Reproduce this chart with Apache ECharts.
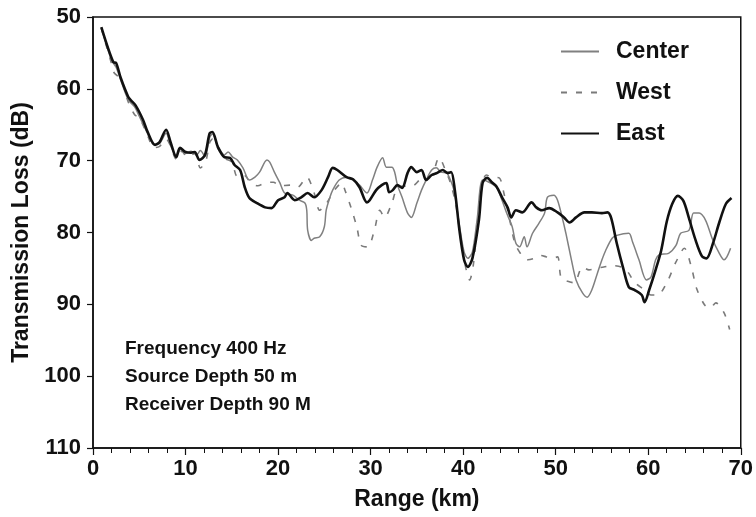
<!DOCTYPE html>
<html>
<head>
<meta charset="utf-8">
<script src="https://cdn.jsdelivr.net/npm/echarts@6/dist/echarts.min.js"></script>
<style>html,body{margin:0;padding:0;background:#fff}#c{width:756px;height:517px}</style>
</head>
<body>
<div id="c"></div>
<script>
// ---- data: [range km, transmission loss dB] ----
const seriesNames = ["Center", "West", "East"];
const xTicks = [0, 10, 20, 30, 40, 50, 60, 70];
const yTicks = [50, 60, 70, 80, 90, 100, 110];
const annotationLines = ["Frequency 400 Hz", "Source Depth 50 m", "Receiver Depth 90 M"];

const centerData = [[0.9,51.5],[2,56],[2.5,57],[3,58.8],[3.8,61.5],[4.5,62.5],[5,63.8],[5.9,66.2],[6.6,67.8],[7.2,67.6],[7.9,66.2],[8.4,67.9],[9,69.3],[9.5,68.4],[10,69],[10.6,68.7],[11.2,69.2],[11.6,68.6],[12.1,69.4],[12.6,66.8],[12.9,66.3],[13.5,68],[14.2,69.2],[14.6,68.8],[15.1,69.5],[15.6,69.9],[16.2,71],[16.9,72.7],[17.5,72.3],[18,71.6],[18.8,69.9],[19.1,70.2],[19.6,71.6],[20.2,73.1],[20.7,74.5],[21.6,74.8],[22.3,75.5],[22.9,75.9],[23.1,76.9],[23.2,79.7],[23.6,81.1],[23.9,80.8],[24.5,80.6],[25,79.2],[25.2,76.9],[25.6,75.1],[25.9,74.1],[26.6,72.7],[27.4,72.3],[28.2,72.8],[28.8,73.4],[29.6,74.5],[30.2,72.7],[30.7,70.9],[31.3,69.6],[31.7,70.9],[32.3,70.9],[32.6,71.6],[32.9,73.4],[33.4,75.1],[34,77.3],[34.4,77.9],[35,75.9],[35.5,74.1],[36,72.7],[36.6,71.3],[37.1,71],[37.6,71.6],[38.2,71.7],[38.5,72.3],[39,74.1],[39.6,79],[40.1,82.7],[40.5,83.6],[41,82.7],[41.5,78.3],[42.1,72.7],[42.8,73],[43.6,73.7],[44.2,75.5],[44.7,77.3],[45.3,79.2],[45.7,81.5],[46.1,82],[46.6,80.6],[46.9,82],[47.5,80.1],[48.2,78.7],[48.8,77.3],[49.1,75.1],[49.8,74.8],[50.2,75.5],[50.7,77.9],[51.1,80.1],[51.7,83.8],[52.2,86.6],[52.9,88.4],[53.4,89],[53.9,88],[54.5,85.7],[55,83.8],[55.4,82.5],[56.1,80.8],[56.6,80.4],[57.9,80.1],[58.3,81.3],[59,83.8],[59.8,86.6],[60.3,86.2],[60.8,83.8],[61.2,83.1],[62.2,82.9],[63,81.8],[63.5,80.1],[64.4,79.7],[64.9,77.3],[65.5,77.3],[66.2,78.3],[66.9,80.8],[67.6,82.7],[68.2,83.8],[68.5,83.4],[68.9,82.2]];

const westData = [[0.9,51.6],[2,56.5],[2.3,57.8],[3,58.6],[3.8,61.8],[4.5,63.6],[5,64],[5.9,66.5],[6.6,68.2],[7.2,68],[7.9,67],[8.4,68],[9,69.8],[9.6,68.7],[10.2,69.5],[11,69],[11.6,71],[12.2,70],[12.6,67.5],[12.9,67],[13.5,68.3],[14.3,69.7],[15,70.2],[15.6,72.2],[16.3,72],[17,73],[17.8,73.5],[18.6,73.1],[19.5,73],[20.2,73.5],[21.3,73.4],[22.1,73.7],[23.1,72.3],[23.9,74.5],[24.5,76.9],[25.2,76],[26.1,74.1],[26.9,73.1],[27.2,74],[27.9,76.6],[28.5,79.2],[29,81.8],[29.7,82],[30.4,79.7],[31,76.9],[31.5,77.9],[32.3,75.9],[32.9,73.8],[34,73.5],[34.7,73.4],[35.3,72.7],[36.6,72],[37.4,69.6],[38.2,71.7],[38.6,73],[39.2,76],[39.8,81.5],[40.3,85],[40.7,86.6],[41.1,84.5],[41.6,78],[42.1,73],[42.5,72],[43.1,72.3],[43.9,72.4],[44.4,74.5],[45,78],[45.6,81.5],[46.3,83.1],[47,83.8],[47.7,83.6],[48.4,83.2],[49,83.4],[49.6,83.6],[50.2,83.4],[50.6,86.4],[51.3,86.8],[52,87],[52.9,84.8],[53.6,85.2],[54.3,85],[55.2,84.8],[56,84.6],[57.1,84.8],[57.8,85.5],[58.5,86.9],[59.5,87.9],[60.3,88.7],[61,88.7],[62,87],[63,84.1],[63.9,82.2],[64.7,85],[65.2,87.7],[66.1,90.1],[66.7,90.5],[67.3,89.8],[68.2,91.2],[68.8,93.5]];

const eastData = [[0.9,51.4],[2.2,56.3],[2.5,56.4],[3,58.5],[3.8,61.1],[4.1,61.6],[4.6,62.3],[5.4,64.3],[5.9,66],[6.7,67.8],[7.2,67.4],[7.9,65.7],[8.4,67.5],[9,69.5],[9.4,68.2],[10,68.8],[10.6,68.9],[11,68.8],[11.5,69.9],[12.1,69.2],[12.6,66.2],[12.9,66],[13.5,68.1],[14.2,69.5],[14.8,69.6],[15.3,70.6],[15.9,71.3],[16.4,73.7],[16.9,75.2],[17.7,75.9],[18.6,76.5],[19.3,76.6],[20,75.5],[20.7,75.1],[21,74.5],[21.8,75.5],[22.5,75.1],[23.2,74.5],[23.9,75.1],[24.7,74.1],[25.4,72.3],[25.9,71],[26.4,71.3],[27.4,72.3],[28.1,72.6],[28.8,73.7],[29.6,75.8],[29.9,75.5],[30.6,74.1],[31.2,73.4],[31.7,73.1],[32,74.4],[32.4,74.1],[32.9,73.4],[33.4,73.8],[34,71.7],[34.4,70.9],[35,71.6],[35.5,71.3],[36,72.7],[36.6,72],[37.2,71.7],[37.8,71.3],[38.3,71.7],[38.7,71.6],[39.1,74.1],[39.6,79.7],[40.1,83.8],[40.5,84.8],[41,83.6],[41.7,78.3],[42.1,73.1],[42.6,72.4],[43.1,73],[43.6,73.6],[44.2,75.1],[44.8,76.5],[45.2,77.9],[45.7,76.9],[46.4,77.2],[47.4,75.8],[47.9,76.5],[48.5,76.9],[49.3,76.6],[50.2,77.2],[50.9,77.9],[51.5,78.6],[52.2,77.9],[53.1,77.2],[53.9,77.2],[55,77.3],[55.6,77.2],[56,78],[56.6,81.5],[57.3,85],[57.9,87.6],[58.5,88],[59.3,88.7],[59.6,89.7],[60.1,88],[60.8,85.2],[61.4,82.5],[62,78.5],[62.6,76],[63.2,74.9],[63.8,75.6],[64.4,78],[65.1,81],[65.8,83.3],[66.3,83.6],[67,81.5],[67.7,78.5],[68.4,76],[69,75.2]];

const FONT = '"Liberation Sans", Arial, Helvetica, sans-serif';
const chart = echarts.init(document.getElementById('c'), null, {renderer: 'canvas'});

const option = {
  backgroundColor: '#ffffff',
  animation: false,
  grid: {left: 93, right: 14, top: 17, bottom: 69, show: true, borderColor: '#111', borderWidth: 1.5, backgroundColor: 'transparent'},
  legend: {
    data: seriesNames,
    orient: 'vertical',
    left: 560, top: 40, padding: 0,
    itemWidth: 38, itemHeight: 14, itemGap: 18,
    itemStyle: {opacity: 0},
    textStyle: {fontFamily: FONT, fontWeight: 'bold', fontSize: 23, color: '#111', padding: [0, 0, 0, 12], lineHeight: 23}
  },
  xAxis: {
    type: 'value', min: xTicks[0], max: xTicks[xTicks.length - 1], interval: 10,
    name: 'Range (km)', nameLocation: 'middle', nameGap: 40,
    nameTextStyle: {fontFamily: FONT, fontWeight: 'bold', fontSize: 23, color: '#111'},
    axisLine: {show: true, lineStyle: {color: '#111', width: 1.5}},
    axisTick: {show: true, length: 7, inside: false, lineStyle: {color: '#111', width: 1.2}},
    minorTick: {show: true, splitNumber: 5, length: 5, lineStyle: {color: '#111', width: 1}},
    axisLabel: {fontFamily: FONT, fontWeight: 'bold', fontSize: 22, color: '#111', margin: 10},
    splitLine: {show: false}
  },
  yAxis: {
    type: 'value', inverse: true, min: yTicks[0], max: yTicks[yTicks.length - 1], interval: 10,
    name: 'Transmission Loss (dB)', nameLocation: 'middle', nameGap: 50,
    nameTextStyle: {fontFamily: FONT, fontWeight: 'bold', fontSize: 23, color: '#111'},
    axisLine: {show: true, lineStyle: {color: '#111', width: 1.5}},
    axisTick: {show: true, length: 6, inside: false, lineStyle: {color: '#111', width: 1.2}},
    axisLabel: {fontFamily: FONT, fontWeight: 'bold', fontSize: 22, color: '#111', margin: 12},
    splitLine: {show: false}
  },
  graphic: annotationLines.map((t, i) => ({
    type: 'text', left: 125, top: 339 + i * 28, silent: true,
    style: {text: t, font: 'bold 19px ' + FONT, fill: '#111'}
  })),
  series: [
    {name: seriesNames[0], type: 'line', data: centerData, symbol: 'none', smooth: 0.3,
     lineStyle: {color: '#808080', width: 1.5}, itemStyle: {color: '#808080'}, z: 2},
    {name: seriesNames[1], type: 'line', data: westData, symbol: 'none', smooth: 0.3,
     lineStyle: {color: '#7a7a7a', width: 1.6, type: [6, 9]}, itemStyle: {color: '#7a7a7a'}, z: 1},
    {name: seriesNames[2], type: 'line', data: eastData, symbol: 'none', smooth: 0.3,
     lineStyle: {color: '#111', width: 2.6}, itemStyle: {color: '#111'}, z: 3}
  ]
};
chart.setOption(option);
</script>
</body>
</html>
